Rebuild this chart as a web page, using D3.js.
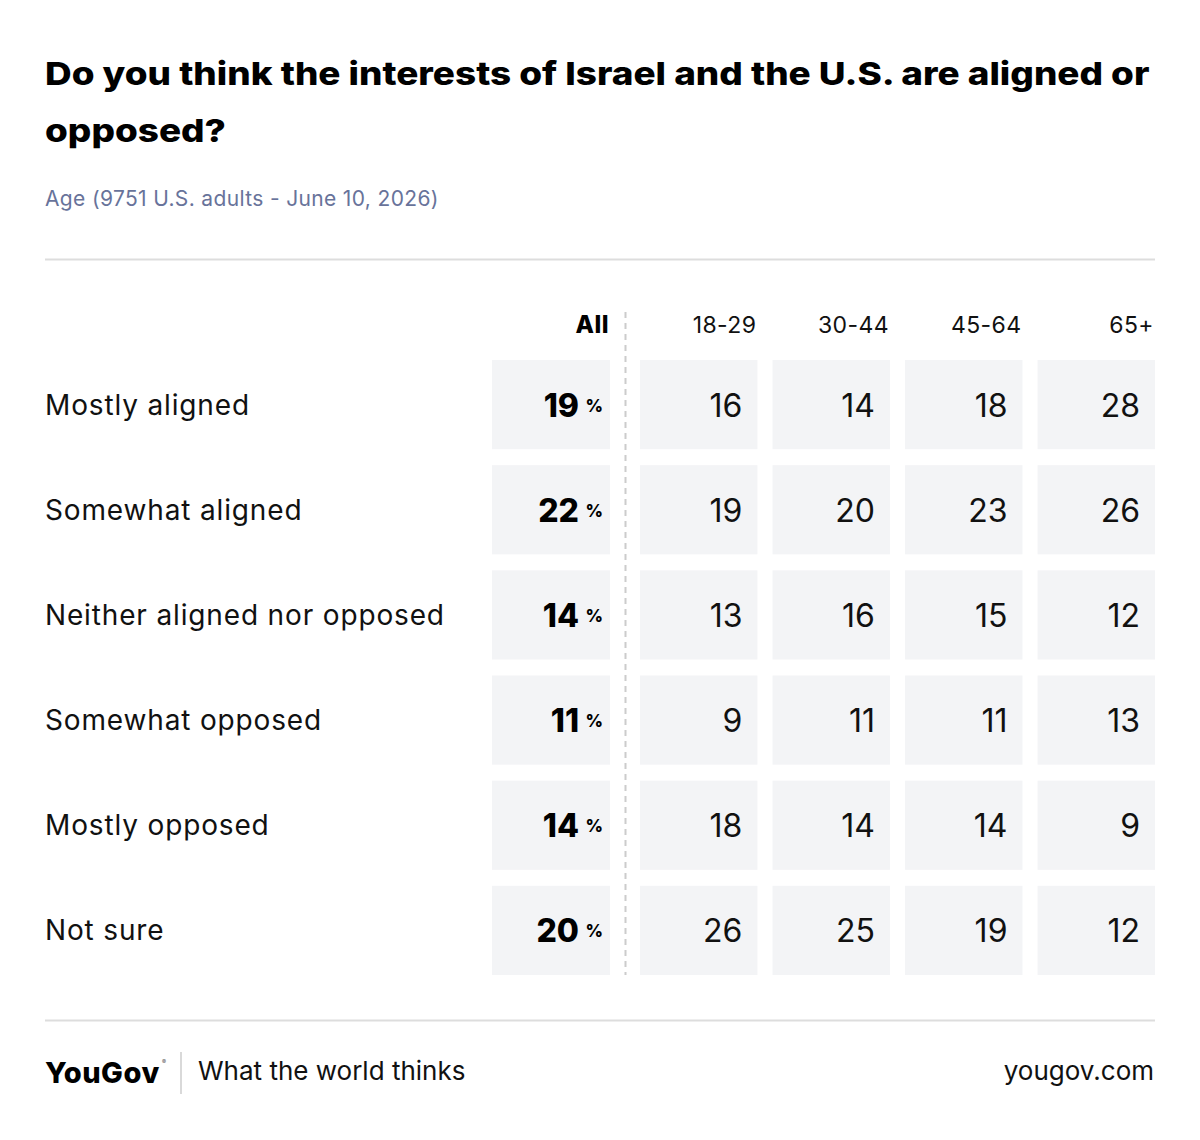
<!DOCTYPE html>
<html>
<head>
<meta charset="utf-8">
<script src="https://cdn.jsdelivr.net/npm/d3@7"></script>
<style>
  body { margin: 0; background: #fff; }
  svg { display: block; font-family: Inter, "Noto Sans", sans-serif; }
</style>
</head>
<body>
<main></main>
<script>
const rows = ["Mostly aligned", "Somewhat aligned", "Neither aligned nor opposed", "Somewhat opposed", "Mostly opposed", "Not sure"];
const allValues = [19, 22, 14, 11, 14, 20];
const ages = ["18-29", "30-44", "45-64", "65+"];
const ageValues = [
    [16, 14, 18, 28],
    [19, 20, 23, 26],
    [13, 16, 15, 12],
    [9, 11, 11, 13],
    [18, 14, 14, 9],
    [26, 25, 19, 12]
];

window.onload = () => {
    const width = 1200, height = 1140;
    const svg = d3.select("main").append("svg").attr("width", width).attr("height", height);

    // title: the original face is wider than Inter, so stretch it to the same line width
    const titleG = svg.append("g");
    const title = titleG.append("text")
        .attr("font-size", 32).attr("font-weight", 800).attr("fill", "#000");
    const t1 = title.append("tspan").attr("x", 0).attr("y", 85)
        .text("Do you think the interests of Israel and the U.S. are aligned or");
    title.append("tspan").attr("x", 0).attr("y", 142).text("opposed?");
    const sx = 1105 / t1.node().getComputedTextLength();
    titleG.attr("transform", `translate(45,0) scale(${sx},1)`);

    svg.append("text").attr("x", 45).attr("y", 206)
        .attr("font-size", 21).attr("letter-spacing", 0.35).attr("fill", "#68739a")
        .text("Age (9751 U.S. adults - June 10, 2026)");

    svg.append("line").attr("x1", 45).attr("x2", 1155).attr("y1", 259.5).attr("y2", 259.5)
        .attr("stroke", "#dddddd").attr("stroke-width", 2);
    svg.append("line").attr("x1", 45).attr("x2", 1155).attr("y1", 1020.5).attr("y2", 1020.5)
        .attr("stroke", "#dddddd").attr("stroke-width", 2);

    // scales
    const y = d3.scaleBand().domain(rows).range([360, 975]).paddingInner(0.152);
    const x = d3.scaleBand().domain(ages).range([640, 1155]).paddingInner(0.114);
    const xAll = d3.scaleBand().domain(["All"]).range([492, 610]);

    // header
    svg.append("text").attr("x", xAll("All") + xAll.bandwidth() - 1).attr("y", 333)
        .attr("text-anchor", "end").attr("font-size", 24).attr("font-weight", 800)
        .attr("letter-spacing", 0.5)
        .text("All");
    svg.selectAll("text.head").data(ages).join("text")
        .attr("class", "head")
        .attr("x", d => x(d) + x.bandwidth() - 1)
        .attr("y", 333)
        .attr("text-anchor", "end").attr("font-size", 23).attr("letter-spacing", 0.4)
        .attr("fill", "#111")
        .text(d => d);

    // dashed divider
    svg.append("line").attr("x1", 625.5).attr("x2", 625.5).attr("y1", 312).attr("y2", 975)
        .attr("stroke", "#cccccc").attr("stroke-width", 2).attr("stroke-dasharray", "6,5");

    // row labels
    svg.selectAll("text.row").data(rows).join("text")
        .attr("class", "row")
        .attr("x", 45)
        .attr("y", d => y(d) + y.bandwidth() / 2 + 10)
        .attr("font-size", 28).attr("letter-spacing", 0.85).attr("fill", "#111")
        .text(d => d);

    // All column
    const allG = svg.append("g");
    allG.selectAll("rect").data(allValues).join("rect")
        .attr("x", xAll("All"))
        .attr("y", (d, i) => y(rows[i]))
        .attr("width", xAll.bandwidth())
        .attr("height", y.bandwidth())
        .attr("fill", "#f3f4f6");
    allG.selectAll("text.v").data(allValues).join("text")
        .attr("class", "v")
        .attr("x", xAll("All") + xAll.bandwidth() - 31)
        .attr("y", (d, i) => y(rows[i]) + y.bandwidth() / 2 + 12)
        .attr("text-anchor", "end").attr("font-size", 32).attr("font-weight", 800)
        .attr("fill", "#000")
        .text(d => d);
    allG.selectAll("text.p").data(allValues).join("text")
        .attr("class", "p")
        .attr("x", xAll("All") + xAll.bandwidth() - 7)
        .attr("y", (d, i) => y(rows[i]) + y.bandwidth() / 2 + 7)
        .attr("text-anchor", "end").attr("font-size", 17).attr("font-weight", 800)
        .attr("fill", "#000")
        .text("%");

    // age cells
    const cells = ageValues.flatMap((vals, i) => vals.map((v, j) => ({ row: rows[i], age: ages[j], v })));
    svg.append("g").selectAll("rect").data(cells).join("rect")
        .attr("x", d => x(d.age))
        .attr("y", d => y(d.row))
        .attr("width", x.bandwidth())
        .attr("height", y.bandwidth())
        .attr("fill", "#f3f4f6");
    svg.append("g").selectAll("text").data(cells).join("text")
        .attr("x", d => x(d.age) + x.bandwidth() - 15)
        .attr("y", d => y(d.row) + y.bandwidth() / 2 + 12)
        .attr("text-anchor", "end").attr("font-size", 32).attr("fill", "#111")
        .text(d => d.v);

    // footer
    svg.append("text").attr("x", 45).attr("y", 1083)
        .attr("font-size", 29).attr("font-weight", 800).attr("letter-spacing", 0.5)
        .attr("fill", "#000").text("YouGov");
    svg.append("text").attr("x", 162).attr("y", 1064)
        .attr("font-size", 6).attr("fill", "#555").text("®");
    svg.append("line").attr("x1", 181).attr("x2", 181).attr("y1", 1052).attr("y2", 1094)
        .attr("stroke", "#cccccc").attr("stroke-width", 1.5);
    svg.append("text").attr("x", 198).attr("y", 1080)
        .attr("font-size", 26).attr("fill", "#111").text("What the world thinks");
    svg.append("text").attr("x", 1154).attr("y", 1080)
        .attr("text-anchor", "end").attr("font-size", 26).attr("fill", "#111").text("yougov.com");
};
</script>
</body>
</html>
